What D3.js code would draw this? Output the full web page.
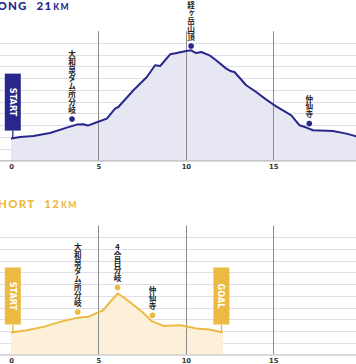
<!DOCTYPE html>
<html><head><meta charset="utf-8">
<script src="https://cdn.jsdelivr.net/npm/d3@7/dist/d3.min.js"></script>
<style>html,body{margin:0;padding:0;background:#fff;}svg{display:block;}
.vlab{writing-mode:vertical-rl;text-orientation:upright;}</style>
</head><body>
<svg id="c" width="356" height="364"></svg>
<script>
// ---- data ----
const kmTicks = [0, 5, 10, 15];
const gridElev = [600, 800, 1000, 1200, 1400, 1600, 1800, 2000, 2200, 2400];
const vGridKm = [5, 10, 15, 20];

const longKm   = [0, 0.52, 1.28, 2.23, 3.19, 3.76, 4.14, 4.39, 4.91, 5.48, 5.95, 6.14, 7.0, 7.77, 8.24, 8.53, 9.10, 9.48, 10.02, 10.30, 10.59, 10.88, 11.35, 11.73, 12.31, 12.59, 12.78, 13.45, 14.02, 14.60, 14.98, 15.55, 16.03, 16.50, 16.89, 17.27, 18.41, 19.18, 19.75, 20.4, 21.0];
const longElev = [770, 797, 814, 865, 957, 1009, 1014, 992, 1048, 1111, 1281, 1309, 1594, 1820, 2020, 2008, 2207, 2229, 2263, 2275, 2229, 2246, 2190, 2105, 1963, 1917, 1905, 1679, 1565, 1435, 1355, 1253, 1167, 997, 958, 912, 900, 855, 809, 780, 770];

const shortKm   = [0, 0.90, 1.85, 2.80, 3.76, 4.14, 4.42, 4.91, 5.28, 5.67, 6.11, 6.53, 7.10, 7.57, 8.05, 8.72, 9.67, 10.02, 10.59, 11.35, 12.12];
const shortElev = [775, 814, 871, 956, 1024, 1041, 1041, 1109, 1155, 1297, 1440, 1355, 1223, 1109, 968, 888, 900, 883, 843, 826, 775];

const longMarkKm   = [3.49, 10.30, 17.06];
const longMarkElev = [1104, 2349, 1026];
const longMarkName = ["大和泉ダム所分岐", "経ヶ岳山頂", "仲仙寺"];

const shortMarkKm   = [3.82, 6.09, 8.09];
const shortMarkElev = [1125, 1542, 1070];
const shortMarkName = ["大和泉ダム所分岐", "4合目分岐", "仲仙寺"];

const longTitle  = ["LONG", "21", "KM"];
const shortTitle = ["SHORT", "12", "KM"];

// ---- drawing ----
const svg = d3.select("#c");
const x = d3.scaleLinear().domain([0, 15]).range([11, 273.3]);

function panel(o) {
  const g = svg.append("g");
  const y = d3.scaleLinear().domain([400, 2400]).range([o.bottom, o.bottom - 117.3]);
  // title
  const t = g.append("text").attr("x", o.titleX).attr("y", o.titleY)
    .attr("fill", o.color).attr("font-family", "Lato, 'DejaVu Sans', sans-serif")
    .attr("font-weight", 900).attr("font-size", 11.5).attr("letter-spacing", 1.2);
  t.append("tspan").text(o.title[0]);
  t.append("tspan").attr("dx", 9).text(o.title[1]);
  t.append("tspan").attr("font-size", 8.5).attr("dx", 1).text(o.title[2]);

  // horizontal grid
  g.selectAll(".hg").data(gridElev).join("line")
    .attr("x1", 0).attr("x2", 356)
    .attr("y1", d => Math.round(y(d)) + 0.5).attr("y2", d => Math.round(y(d)) + 0.5)
    .attr("stroke", "#e0dfe9").attr("stroke-width", 1.2);

  // area
  const pts = o.km.map((k, i) => [k, o.elev[i]]);
  g.append("path").datum(pts)
    .attr("d", d3.area().x(d => x(d[0])).y0(o.bottom).y1(d => y(d[1])))
    .attr("fill", o.fill);

  // vertical grid
  g.selectAll(".vg").data(vGridKm).join("line")
    .attr("x1", d => Math.round(x(d)) + 0.5).attr("x2", d => Math.round(x(d)) + 0.5)
    .attr("y1", y(2600)).attr("y2", o.bottom)
    .attr("stroke", "#8c8c8c").attr("stroke-width", 1);

  // axis line
  g.append("line").attr("x1", 0).attr("x2", 356)
    .attr("y1", o.bottom + 0.5).attr("y2", o.bottom + 0.5)
    .attr("stroke", "#b5b5b5").attr("stroke-width", 1.2);

  // axis
  const ax = g.append("g").attr("transform", `translate(0,${o.bottom})`)
    .call(d3.axisBottom(x).tickValues(kmTicks).tickSize(0).tickPadding(4).tickFormat(d3.format("d")));
  ax.select(".domain").remove();
  ax.selectAll("text").attr("font-family", "'DejaVu Sans', sans-serif").attr("font-weight", "bold")
    .attr("font-size", 6.8).attr("fill", "#333");

  // line
  g.append("path").datum(pts)
    .attr("d", d3.line().x(d => x(d[0])).y(d => y(d[1])))
    .attr("fill", "none").attr("stroke", o.color).attr("stroke-width", 2).attr("stroke-linejoin", "round");

  // markers
  o.markKm.forEach((k, i) => {
    const cx = x(k), cy = y(o.markElev[i]);
    g.append("circle").attr("cx", cx).attr("cy", cy).attr("r", 2.8).attr("fill", o.color);
    g.append("text").attr("class", "vlab")
      .attr("x", cx).attr("y", cy - 5)
      .attr("text-anchor", "end")
      .attr("font-family", "'Noto Sans CJK JP', sans-serif").attr("font-weight", "bold")
      .attr("font-size", 7.6).attr("letter-spacing", 0.3).attr("fill", "#222").text(o.markName[i]);
  });

  // flags
  function flag(k, e, label, dxc) {
    const cx = x(k) + dxc, ly = y(e);
    const top = ly - 65, bot = ly - 8;
    g.append("line").attr("x1", cx).attr("x2", cx).attr("y1", bot).attr("y2", ly)
      .attr("stroke", o.color).attr("stroke-width", 1.3);
    g.append("rect").attr("x", cx - 8).attr("y", top).attr("width", 16).attr("height", bot - top)
      .attr("fill", o.color);
    g.append("text").attr("transform", `translate(${cx},${(top + bot) / 2}) rotate(90)`)
      .attr("text-anchor", "middle").attr("dominant-baseline", "central")
      .attr("font-family", "'DejaVu Sans', sans-serif").attr("font-weight", "bold")
      .attr("font-size", 8.2).attr("fill", "#fff").text(label);
  }
  flag(o.km[0], o.elev[0], "START", 1.8);
  if (o.goal) flag(o.km[o.km.length - 1], o.elev[o.elev.length - 1], "GOAL", -1.5);
}

panel({bottom: 160.3, color: "#27278c", fill: "#e7e7f3", km: longKm, elev: longElev,
  markKm: longMarkKm, markElev: longMarkElev, markName: longMarkName,
  title: longTitle, titleX: -9.5, titleY: 10, goal: false});
panel({bottom: 354.5, color: "#ecba42", fill: "#fdf0d9", km: shortKm, elev: shortElev,
  markKm: shortMarkKm, markElev: shortMarkElev, markName: shortMarkName,
  title: shortTitle, titleX: -9.5, titleY: 207.5, goal: true});
</script>
</body></html>
